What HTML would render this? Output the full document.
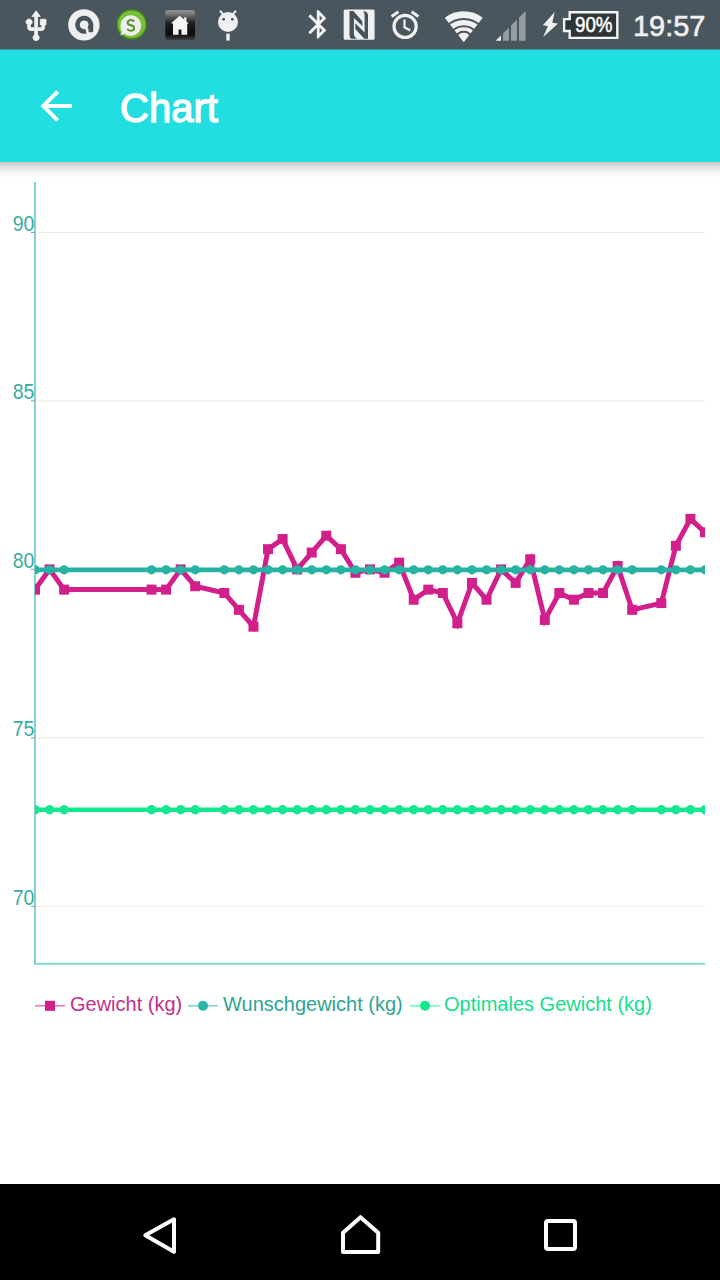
<!DOCTYPE html>
<html><head><meta charset="utf-8">
<style>
html,body{margin:0;padding:0;width:720px;height:1280px;overflow:hidden;background:#fff;font-family:"Liberation Sans",sans-serif;}
#status{position:absolute;left:0;top:0;width:720px;height:50px;background:linear-gradient(#4a565d 0px,#4a565d 49px,#36999f 49px,#36999f 50px);}
#toolbar{position:absolute;left:0;top:50px;width:720px;height:112px;background:#22dee0;}
#shadow{position:absolute;left:0;top:162px;width:720px;height:16px;background:linear-gradient(#c6c8c4 0px,#d6d6d3 3px,#e6e6e6 6px,#f0f2f3 9px,#f9f9f9 12px,#ffffff 16px);}
#title{position:absolute;left:120px;top:85px;transform:scaleX(1);transform-origin:0 0;font-size:40px;font-weight:normal;-webkit-text-stroke:1.3px #fff;color:#fff;line-height:46px;white-space:nowrap;}
.lg{position:absolute;top:992px;font-size:20px;line-height:24px;white-space:nowrap;}
#nav{position:absolute;left:0;top:1184px;width:720px;height:96px;background:#000;}
.time{position:absolute;left:633px;top:6px;font-size:30px;line-height:40px;color:#f0f0f0;white-space:nowrap;-webkit-text-stroke:0.6px #f0f0f0;transform:scaleX(0.965);transform-origin:0 0;}
.bat{position:absolute;left:575px;top:11px;font-size:22px;line-height:28px;color:#fff;white-space:nowrap;-webkit-text-stroke:0.5px #fff;transform:scaleX(0.853);transform-origin:0 0;}
</style></head><body>
<div id="status">
<svg width="720" height="49" style="position:absolute;left:0;top:0">
<!-- usb -->
<path transform="translate(19.2 9.4) scale(1.41)" fill="#f2f2f2" stroke="#f2f2f2" stroke-width="0.55" d="M15 7v4h1v2h-3V5h2l-3-4-3 4h2v8H8v-2.07c.7-.37 1.2-1.08 1.2-1.93 0-1.21-.99-2.2-2.2-2.2-1.21 0-2.2.99-2.2 2.2 0 .85.5 1.56 1.2 1.93V13c0 1.11.89 2 2 2h3v3.05c-.71.37-1.2 1.1-1.2 1.95 0 1.22.99 2.2 2.2 2.2 1.21 0 2.2-.98 2.2-2.2 0-.85-.49-1.58-1.2-1.95V15h3c1.11 0 2-.89 2-2v-2h1V7h-4z"/>
<!-- a icon -->
<circle cx="83.9" cy="24.9" r="15.7" fill="#eeeff1"/>
<circle cx="84.2" cy="24.8" r="6.7" fill="none" stroke="#47525a" stroke-width="4.6" stroke-dasharray="38 4.1" transform="rotate(75 84.2 24.8)"/>
<rect x="88.5" y="24.8" width="4.7" height="7.5" rx="1" fill="#47525a"/>
<!-- green s -->
<circle cx="131.7" cy="24.4" r="14.6" fill="#7abf3a" stroke="#467f22" stroke-width="1.4"/>
<path d="M120.5 25.5 a10.3 10.3 0 1 1 4 8.2 l-4.2 1.8 l1.5-3.6 a10.3 10.3 0 0 1 -1.3 -6.4z" fill="#eceeea"/>
<path d="M134.6 21.2 c-0.8-1.5-2.3-2-3.8-1.9 c-2 .1-3.6 1.3-3.5 3.2 c.1 1.6 1.4 2.3 3.6 2.8 c2.3.5 3.6 1.2 3.7 3 c.1 2-1.7 3.2-3.8 3.2 c-1.8 0-3.3-.8-4-2.2" fill="none" stroke="#52912b" stroke-width="2.3" transform="translate(130.7 25.4) scale(0.88) translate(-130.7 -25.4)"/>
<!-- home box -->
<defs><linearGradient id="hg" x1="0" y1="0" x2="0" y2="1">
<stop offset="0" stop-color="#9a9a9a"/><stop offset="0.45" stop-color="#1a1a1a"/><stop offset="0.8" stop-color="#0d0d0d"/><stop offset="1" stop-color="#3a3a3a"/></linearGradient></defs>
<rect x="165.3" y="10.3" width="29.7" height="29.4" rx="2" fill="url(#hg)"/>
<path d="M179.7 15.8 L184.2 19.6 V17.2 H186.4 V21.5 L189 23.6 H187.2 V34.7 H181.4 V29.4 H178.6 V34.7 H173 V23.6 H170.8 Z" fill="#f4f4f4"/>
<!-- android -->
<circle cx="228" cy="22" r="10" fill="#eef0f2"/>
<circle cx="223.7" cy="19.3" r="1.3" fill="#3a4348"/>
<circle cx="232.3" cy="19.3" r="1.3" fill="#3a4348"/>
<path d="M220 10.6 L223.2 14.3 M236 10.6 L232.8 14.3" stroke="#eef0f2" stroke-width="2"/>
<rect x="226.3" y="33.6" width="3.4" height="7" fill="#eef0f2"/>
<!-- bluetooth -->
<path transform="translate(301.2 7.2) scale(1.42)" fill="#f2f2f2" d="M17.71 7.71L12 2h-1v7.59L6.41 5 5 6.41 10.59 12 5 17.59 6.41 19 11 14.41V22h1l5.71-5.71-4.3-4.29 4.3-4.29zM13 5.83l1.88 1.88L13 9.59V5.83zm1.88 10.46L13 18.17v-3.76l1.88 1.88z"/>
<!-- nfc -->
<rect x="343.7" y="9.4" width="30.9" height="30.4" rx="1.5" fill="#eef0f2"/>
<path fill="#47525a" d="M349.5 11 L353.4 11 L362.3 21.3 L362.3 26 L353.9 18 L353.9 33 Q353.9 37.4 357.2 38.7 L351.5 38.7 Q349.5 38.2 349.5 35.5 Z"/>
<path fill="#47525a" d="M363.2 11 Q368 11.3 368 15.5 L368 38.7 L364.3 38.7 L355.3 28.9 L355.3 23.2 L364.6 32.6 L364.6 16 Q364.6 12.5 363.2 11 Z"/>
<!-- alarm -->
<circle cx="405.1" cy="26.4" r="11.1" fill="none" stroke="#f0f0f0" stroke-width="3.2"/>
<path d="M404.5 19.5 V27.3 L410.3 30.5" fill="none" stroke="#f0f0f0" stroke-width="2.2"/>
<path d="M391.6 16.6 L398.4 11.8 M411.6 11.8 L418.4 16.6" stroke="#f0f0f0" stroke-width="3"/>
<!-- wifi -->
<g>
<path d="M463.75 42.25 L444.8 17.8 A31 31 0 0 1 482.7 17.8 Z" fill="#f0f0f0"/>
<g fill="none" stroke="#4a565d" stroke-width="2">
<path d="M447 26 A23.8 23.8 0 0 1 480.5 26"/>
<path d="M451.5 32 A15.8 15.8 0 0 1 476 32"/>
<path d="M456 37.2 A8.3 8.3 0 0 1 471.5 37.2"/>
</g></g>
<!-- signal -->
<path d="M495.6 40.75 L501 40.75 L501 35.4 Z" fill="#eef0f2"/>
<path d="M503 40.75 L509 40.75 L509 27.5 L503 33.4 Z M511 40.75 L517 40.75 L517 19.5 L511 25.5 Z M519 40.75 L525.6 40.75 L525.6 11 L519 17.5 Z" fill="#959c9f"/>
<!-- bolt -->
<path d="M554.7 12 L542.8 25.2 L547.9 26 L543.2 37 L558 23.4 L552.3 22.7 Z" fill="#f0f0f0"/>
<!-- battery -->
<path d="M569.7 12.2 H617.3 V37.9 H569.7 V31 H564.1 V19.1 H569.7 Z" fill="#2e3539" stroke="#f4f4f4" stroke-width="2.4"/>
</svg>
<div class="bat">90%</div>
<div class="time">19:57</div>
</div>
<div id="toolbar"></div>
<div id="shadow"></div>
<svg style="position:absolute;left:0;top:0" width="720" height="170">
<path transform="translate(32.6 82.3) scale(1.97)" fill="#fff" d="M20 11H7.83l5.59-5.59L12 4l-8 8 8 8 1.41-1.41L7.83 13H20v-2z"/></svg>
<div id="title">Chart</div>
<svg width="720" height="1000" viewBox="0 0 720 1000" style="position:absolute;left:0;top:0">
<defs><clipPath id="c"><rect x="35" y="182" width="670" height="782"/></clipPath></defs>
<line x1="31" y1="232.5" x2="705" y2="232.5" stroke="#ececec" stroke-width="1"/>
<line x1="31" y1="400.9" x2="705" y2="400.9" stroke="#ececec" stroke-width="1"/>
<line x1="31" y1="569.4" x2="705" y2="569.4" stroke="#ececec" stroke-width="1"/>
<line x1="31" y1="737.8" x2="705" y2="737.8" stroke="#ececec" stroke-width="1"/>
<line x1="31" y1="906.3" x2="705" y2="906.3" stroke="#ececec" stroke-width="1"/>
<line x1="35" y1="182" x2="35" y2="964.5" stroke="#80d6cc" stroke-width="2"/>
<line x1="34" y1="963.7" x2="705" y2="963.7" stroke="#80d6cc" stroke-width="2"/>
<text transform="translate(34.3 230.9) scale(0.906 1)" x="0" y="0" text-anchor="end" font-family="Liberation Sans" font-size="21.5" fill="#38ada4">90</text>
<line x1="31" y1="232.5" x2="35" y2="232.5" stroke="#9a9a9a" stroke-width="1"/>
<text transform="translate(34.3 399.3) scale(0.906 1)" x="0" y="0" text-anchor="end" font-family="Liberation Sans" font-size="21.5" fill="#38ada4">85</text>
<line x1="31" y1="400.9" x2="35" y2="400.9" stroke="#9a9a9a" stroke-width="1"/>
<text transform="translate(34.3 567.8) scale(0.906 1)" x="0" y="0" text-anchor="end" font-family="Liberation Sans" font-size="21.5" fill="#38ada4">80</text>
<line x1="31" y1="569.4" x2="35" y2="569.4" stroke="#9a9a9a" stroke-width="1"/>
<text transform="translate(34.3 736.2) scale(0.906 1)" x="0" y="0" text-anchor="end" font-family="Liberation Sans" font-size="21.5" fill="#38ada4">75</text>
<line x1="31" y1="737.8" x2="35" y2="737.8" stroke="#9a9a9a" stroke-width="1"/>
<text transform="translate(34.3 904.7) scale(0.906 1)" x="0" y="0" text-anchor="end" font-family="Liberation Sans" font-size="21.5" fill="#38ada4">70</text>
<line x1="31" y1="906.3" x2="35" y2="906.3" stroke="#9a9a9a" stroke-width="1"/>
<g clip-path="url(#c)">
<polyline points="35.00,589.61 49.57,569.40 64.13,589.61 151.52,589.61 166.09,589.61 180.65,569.40 195.22,586.25 224.35,592.98 238.91,609.83 253.48,626.67 268.04,549.19 282.61,539.08 297.17,569.40 311.74,552.55 326.30,535.71 340.87,549.19 355.43,572.77 370.00,569.40 384.57,572.77 399.13,562.66 413.70,599.72 428.26,589.61 442.83,592.98 457.39,623.30 471.96,582.88 486.52,599.72 501.09,569.40 515.65,582.88 530.22,559.29 544.78,619.93 559.35,592.98 573.91,599.72 588.48,592.98 603.04,592.98 617.61,566.03 632.17,609.83 661.30,603.09 675.87,545.82 690.43,518.87 705.00,532.34" fill="none" stroke="#d11f8c" stroke-width="5" stroke-linejoin="miter"/>
<rect x="30.00" y="584.61" width="10" height="10" fill="#d11f8c"/>
<rect x="44.57" y="564.40" width="10" height="10" fill="#d11f8c"/>
<rect x="59.13" y="584.61" width="10" height="10" fill="#d11f8c"/>
<rect x="146.52" y="584.61" width="10" height="10" fill="#d11f8c"/>
<rect x="161.09" y="584.61" width="10" height="10" fill="#d11f8c"/>
<rect x="175.65" y="564.40" width="10" height="10" fill="#d11f8c"/>
<rect x="190.22" y="581.25" width="10" height="10" fill="#d11f8c"/>
<rect x="219.35" y="587.98" width="10" height="10" fill="#d11f8c"/>
<rect x="233.91" y="604.83" width="10" height="10" fill="#d11f8c"/>
<rect x="248.48" y="621.67" width="10" height="10" fill="#d11f8c"/>
<rect x="263.04" y="544.19" width="10" height="10" fill="#d11f8c"/>
<rect x="277.61" y="534.08" width="10" height="10" fill="#d11f8c"/>
<rect x="292.17" y="564.40" width="10" height="10" fill="#d11f8c"/>
<rect x="306.74" y="547.55" width="10" height="10" fill="#d11f8c"/>
<rect x="321.30" y="530.71" width="10" height="10" fill="#d11f8c"/>
<rect x="335.87" y="544.19" width="10" height="10" fill="#d11f8c"/>
<rect x="350.43" y="567.77" width="10" height="10" fill="#d11f8c"/>
<rect x="365.00" y="564.40" width="10" height="10" fill="#d11f8c"/>
<rect x="379.57" y="567.77" width="10" height="10" fill="#d11f8c"/>
<rect x="394.13" y="557.66" width="10" height="10" fill="#d11f8c"/>
<rect x="408.70" y="594.72" width="10" height="10" fill="#d11f8c"/>
<rect x="423.26" y="584.61" width="10" height="10" fill="#d11f8c"/>
<rect x="437.83" y="587.98" width="10" height="10" fill="#d11f8c"/>
<rect x="452.39" y="618.30" width="10" height="10" fill="#d11f8c"/>
<rect x="466.96" y="577.88" width="10" height="10" fill="#d11f8c"/>
<rect x="481.52" y="594.72" width="10" height="10" fill="#d11f8c"/>
<rect x="496.09" y="564.40" width="10" height="10" fill="#d11f8c"/>
<rect x="510.65" y="577.88" width="10" height="10" fill="#d11f8c"/>
<rect x="525.22" y="554.29" width="10" height="10" fill="#d11f8c"/>
<rect x="539.78" y="614.93" width="10" height="10" fill="#d11f8c"/>
<rect x="554.35" y="587.98" width="10" height="10" fill="#d11f8c"/>
<rect x="568.91" y="594.72" width="10" height="10" fill="#d11f8c"/>
<rect x="583.48" y="587.98" width="10" height="10" fill="#d11f8c"/>
<rect x="598.04" y="587.98" width="10" height="10" fill="#d11f8c"/>
<rect x="612.61" y="561.03" width="10" height="10" fill="#d11f8c"/>
<rect x="627.17" y="604.83" width="10" height="10" fill="#d11f8c"/>
<rect x="656.30" y="598.09" width="10" height="10" fill="#d11f8c"/>
<rect x="670.87" y="540.82" width="10" height="10" fill="#d11f8c"/>
<rect x="685.43" y="513.87" width="10" height="10" fill="#d11f8c"/>
<rect x="700.00" y="527.34" width="10" height="10" fill="#d11f8c"/>
<line x1="35.00" y1="569.80" x2="705.00" y2="569.80" stroke="#28b2a3" stroke-width="4.8"/>
<circle cx="35.00" cy="569.80" r="4.6" fill="#28b2a3"/>
<circle cx="49.57" cy="569.80" r="4.6" fill="#28b2a3"/>
<circle cx="64.13" cy="569.80" r="4.6" fill="#28b2a3"/>
<circle cx="151.52" cy="569.80" r="4.6" fill="#28b2a3"/>
<circle cx="166.09" cy="569.80" r="4.6" fill="#28b2a3"/>
<circle cx="180.65" cy="569.80" r="4.6" fill="#28b2a3"/>
<circle cx="195.22" cy="569.80" r="4.6" fill="#28b2a3"/>
<circle cx="224.35" cy="569.80" r="4.6" fill="#28b2a3"/>
<circle cx="238.91" cy="569.80" r="4.6" fill="#28b2a3"/>
<circle cx="253.48" cy="569.80" r="4.6" fill="#28b2a3"/>
<circle cx="268.04" cy="569.80" r="4.6" fill="#28b2a3"/>
<circle cx="282.61" cy="569.80" r="4.6" fill="#28b2a3"/>
<circle cx="297.17" cy="569.80" r="4.6" fill="#28b2a3"/>
<circle cx="311.74" cy="569.80" r="4.6" fill="#28b2a3"/>
<circle cx="326.30" cy="569.80" r="4.6" fill="#28b2a3"/>
<circle cx="340.87" cy="569.80" r="4.6" fill="#28b2a3"/>
<circle cx="355.43" cy="569.80" r="4.6" fill="#28b2a3"/>
<circle cx="370.00" cy="569.80" r="4.6" fill="#28b2a3"/>
<circle cx="384.57" cy="569.80" r="4.6" fill="#28b2a3"/>
<circle cx="399.13" cy="569.80" r="4.6" fill="#28b2a3"/>
<circle cx="413.70" cy="569.80" r="4.6" fill="#28b2a3"/>
<circle cx="428.26" cy="569.80" r="4.6" fill="#28b2a3"/>
<circle cx="442.83" cy="569.80" r="4.6" fill="#28b2a3"/>
<circle cx="457.39" cy="569.80" r="4.6" fill="#28b2a3"/>
<circle cx="471.96" cy="569.80" r="4.6" fill="#28b2a3"/>
<circle cx="486.52" cy="569.80" r="4.6" fill="#28b2a3"/>
<circle cx="501.09" cy="569.80" r="4.6" fill="#28b2a3"/>
<circle cx="515.65" cy="569.80" r="4.6" fill="#28b2a3"/>
<circle cx="530.22" cy="569.80" r="4.6" fill="#28b2a3"/>
<circle cx="544.78" cy="569.80" r="4.6" fill="#28b2a3"/>
<circle cx="559.35" cy="569.80" r="4.6" fill="#28b2a3"/>
<circle cx="573.91" cy="569.80" r="4.6" fill="#28b2a3"/>
<circle cx="588.48" cy="569.80" r="4.6" fill="#28b2a3"/>
<circle cx="603.04" cy="569.80" r="4.6" fill="#28b2a3"/>
<circle cx="617.61" cy="569.80" r="4.6" fill="#28b2a3"/>
<circle cx="632.17" cy="569.80" r="4.6" fill="#28b2a3"/>
<circle cx="661.30" cy="569.80" r="4.6" fill="#28b2a3"/>
<circle cx="675.87" cy="569.80" r="4.6" fill="#28b2a3"/>
<circle cx="690.43" cy="569.80" r="4.6" fill="#28b2a3"/>
<circle cx="705.00" cy="569.80" r="4.6" fill="#28b2a3"/>
<line x1="35.00" y1="809.80" x2="705.00" y2="809.80" stroke="#14e88f" stroke-width="4.6"/>
<circle cx="35.00" cy="809.80" r="4.7" fill="#14e88f"/>
<circle cx="49.57" cy="809.80" r="4.7" fill="#14e88f"/>
<circle cx="64.13" cy="809.80" r="4.7" fill="#14e88f"/>
<circle cx="151.52" cy="809.80" r="4.7" fill="#14e88f"/>
<circle cx="166.09" cy="809.80" r="4.7" fill="#14e88f"/>
<circle cx="180.65" cy="809.80" r="4.7" fill="#14e88f"/>
<circle cx="195.22" cy="809.80" r="4.7" fill="#14e88f"/>
<circle cx="224.35" cy="809.80" r="4.7" fill="#14e88f"/>
<circle cx="238.91" cy="809.80" r="4.7" fill="#14e88f"/>
<circle cx="253.48" cy="809.80" r="4.7" fill="#14e88f"/>
<circle cx="268.04" cy="809.80" r="4.7" fill="#14e88f"/>
<circle cx="282.61" cy="809.80" r="4.7" fill="#14e88f"/>
<circle cx="297.17" cy="809.80" r="4.7" fill="#14e88f"/>
<circle cx="311.74" cy="809.80" r="4.7" fill="#14e88f"/>
<circle cx="326.30" cy="809.80" r="4.7" fill="#14e88f"/>
<circle cx="340.87" cy="809.80" r="4.7" fill="#14e88f"/>
<circle cx="355.43" cy="809.80" r="4.7" fill="#14e88f"/>
<circle cx="370.00" cy="809.80" r="4.7" fill="#14e88f"/>
<circle cx="384.57" cy="809.80" r="4.7" fill="#14e88f"/>
<circle cx="399.13" cy="809.80" r="4.7" fill="#14e88f"/>
<circle cx="413.70" cy="809.80" r="4.7" fill="#14e88f"/>
<circle cx="428.26" cy="809.80" r="4.7" fill="#14e88f"/>
<circle cx="442.83" cy="809.80" r="4.7" fill="#14e88f"/>
<circle cx="457.39" cy="809.80" r="4.7" fill="#14e88f"/>
<circle cx="471.96" cy="809.80" r="4.7" fill="#14e88f"/>
<circle cx="486.52" cy="809.80" r="4.7" fill="#14e88f"/>
<circle cx="501.09" cy="809.80" r="4.7" fill="#14e88f"/>
<circle cx="515.65" cy="809.80" r="4.7" fill="#14e88f"/>
<circle cx="530.22" cy="809.80" r="4.7" fill="#14e88f"/>
<circle cx="544.78" cy="809.80" r="4.7" fill="#14e88f"/>
<circle cx="559.35" cy="809.80" r="4.7" fill="#14e88f"/>
<circle cx="573.91" cy="809.80" r="4.7" fill="#14e88f"/>
<circle cx="588.48" cy="809.80" r="4.7" fill="#14e88f"/>
<circle cx="603.04" cy="809.80" r="4.7" fill="#14e88f"/>
<circle cx="617.61" cy="809.80" r="4.7" fill="#14e88f"/>
<circle cx="632.17" cy="809.80" r="4.7" fill="#14e88f"/>
<circle cx="661.30" cy="809.80" r="4.7" fill="#14e88f"/>
<circle cx="675.87" cy="809.80" r="4.7" fill="#14e88f"/>
<circle cx="690.43" cy="809.80" r="4.7" fill="#14e88f"/>
<circle cx="705.00" cy="809.80" r="4.7" fill="#14e88f"/>
</g></svg>
<svg width="720" height="30" style="position:absolute;left:0;top:991px">
<line x1="35" y1="14.8" x2="65" y2="14.8" stroke="#d11f8c" stroke-opacity="0.55" stroke-width="1.7"/>
<rect x="45" y="9.8" width="10" height="10" fill="#d11f8c"/>
<line x1="188" y1="14.8" x2="218" y2="14.8" stroke="#2bb3a9" stroke-opacity="0.55" stroke-width="1.7"/>
<circle cx="203" cy="14.8" r="5" fill="#2bb3a9"/>
<line x1="410" y1="14.8" x2="440" y2="14.8" stroke="#14e88f" stroke-opacity="0.55" stroke-width="1.7"/>
<circle cx="425" cy="14.8" r="5" fill="#14e88f"/>
</svg>
<div class="lg" style="left:70px;color:#c2318d">Gewicht (kg)</div>
<div class="lg" style="left:223px;color:#2da495">Wunschgewicht (kg)</div>
<div class="lg" style="left:444px;color:#17de8d">Optimales Gewicht (kg)</div>
<div id="nav">
<svg width="720" height="96" style="position:absolute;left:0;top:0">
<g stroke="#fff" stroke-width="4" fill="none" stroke-linejoin="round">
<path d="M174 35.2 L145.3 51.3 L174 67.8 Z"/>
<path d="M343 48.8 L360.5 33.2 L378.2 48.8 V68 H343 Z"/>
<rect x="546" y="37" width="29" height="28" rx="2"/>
</g></svg>
</div>
</body></html>
